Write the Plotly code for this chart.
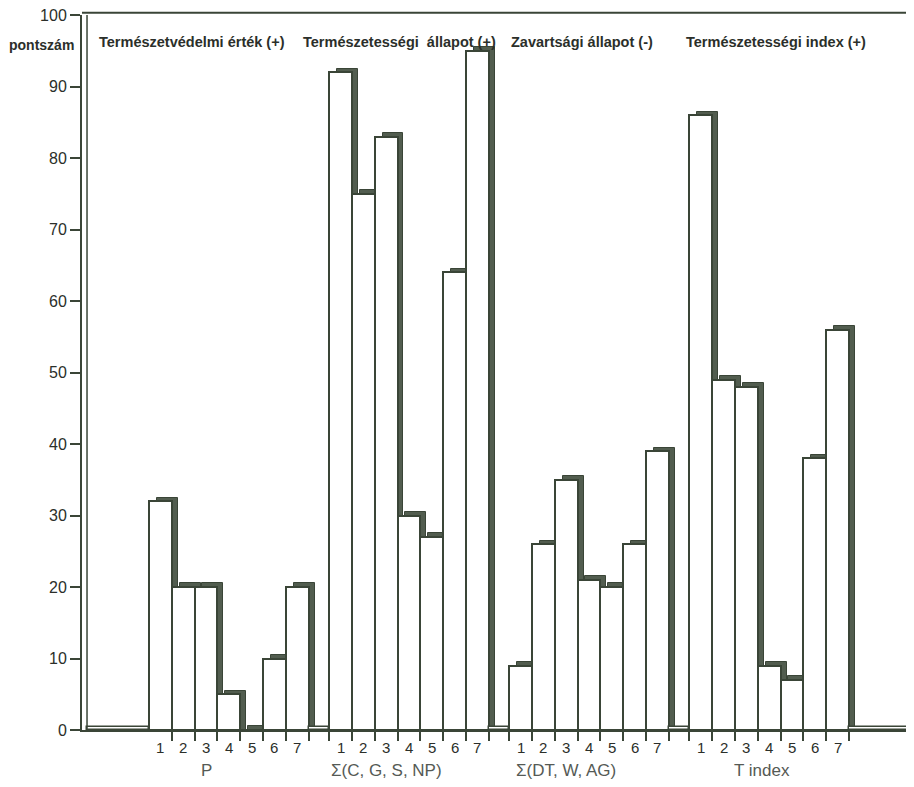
import plotly.graph_objects as go

# ---- data ----
group_names = ["P", "Σ(C, G, S, NP)", "Σ(DT, W, AG)", "T index"]
group_titles = ["Természetvédelmi érték (+)", "Természetességi  állapot (+)",
                "Zavartsági állapot (-)", "Természetességi index (+)"]
bar_labels = ["1", "2", "3", "4", "5", "6", "7"]
values_P = [32, 20, 20, 5, 0, 10, 20]
values_C = [92, 75, 83, 30, 27, 64, 95]
values_DT = [9, 26, 35, 21, 20, 26, 39]
values_T = [86, 49, 48, 9, 7, 38, 56]
gap_heights = [0.4, 0.4, 0.4, 0.4, 0.4]
y_ticks = [0, 10, 20, 30, 40, 50, 60, 70, 80, 90, 100]

series = [values_P, values_C, values_DT, values_T]

# ---- layout helpers (positions in bar-width units) ----
GROUP_GAP = 0.9
STRIDE = len(bar_labels) + GROUP_GAP
X_MIN, X_MAX = -2.94, 33.55
WALL_X = -2.72
starts = [g * STRIDE for g in range(len(series))]

centers, vals, labels = [], [], []
for g, vs in enumerate(series):
    for k, v in enumerate(vs):
        centers.append(starts[g] + k + 0.5)
        vals.append(v)
        labels.append(bar_labels[k])

# gap (flat) bars
gap_edges = [(WALL_X, starts[0])]
for g in range(len(series) - 1):
    gap_edges.append((starts[g] + len(bar_labels), starts[g + 1]))
gap_edges.append((starts[-1] + len(bar_labels), X_MAX + 0.5))
gap_x = [(a + b) / 2 for a, b in gap_edges]
gap_w = [b - a for a, b in gap_edges]

# tick boundaries
boundaries = []
for g, s in enumerate(starts):
    rng = range(1, 8) if g == 0 else range(0, 8)
    boundaries += [s + i for i in rng]

INK = "#3a4537"
SHADE = "#525d4f"
TXT = "#2b2f2a"
SHIFT = 0.3
DEPTH = 0.5

fig = go.Figure()
# shadow (3D side/top)
fig.add_trace(go.Bar(
    x=[c + SHIFT for c in centers], y=[v + DEPTH for v in vals], width=0.92,
    marker=dict(color=SHADE, line=dict(color=INK, width=1)),
    hoverinfo="skip", showlegend=False))
# front faces
fig.add_trace(go.Bar(
    x=centers, y=vals, width=1.0,
    marker=dict(color="white", line=dict(color=INK, width=2)),
    showlegend=False))
# flat gap bars
fig.add_trace(go.Bar(
    x=gap_x, y=gap_heights, width=gap_w,
    marker=dict(color="white", line=dict(color=INK, width=1.5)),
    hoverinfo="skip", showlegend=False))

annotations = []
for c, lab in zip(centers, labels):
    annotations.append(dict(x=c, y=0, xref="x", yref="paper", text=lab,
                            showarrow=False, yanchor="middle", yshift=-17,
                            font=dict(family="Liberation Sans", size=15, color=TXT)))
name_offsets = [2.5, 2.5, 2.5, 3.2]
for s, name, off in zip(starts, group_names, name_offsets):
    annotations.append(dict(x=s + off, y=0, xref="x", yref="paper", text=name,
                            showarrow=False, yanchor="middle", yshift=-40,
                            font=dict(family="Liberation Sans", size=17, color="#555a55")))
title_x = [1.9, 11.0, 19.0, 27.5]
for tx, t in zip(title_x, group_titles):
    annotations.append(dict(x=tx, y=96.2, xref="x", yref="y", text="<b>" + t + "</b>",
                            showarrow=False, yanchor="middle",
                            font=dict(family="Liberation Sans", size=14.5, color=TXT)))
annotations.append(dict(x=0, y=95.8, xref="paper", yref="y", text="<b>pontszám</b>",
                        showarrow=False, xanchor="right", yanchor="middle", xshift=-6,
                        font=dict(family="Liberation Sans", size=14, color=TXT)))

shapes = [
    dict(type="line", xref="paper", yref="paper", x0=0, x1=1, y0=1.003, y1=1.003,
         line=dict(color=INK, width=2)),
    dict(type="line", xref="x", yref="y", x0=WALL_X, x1=WALL_X, y0=0, y1=100,
         line=dict(color=INK, width=1.5)),
]

fig.update_layout(
    width=906, height=771,
    margin=dict(l=74, r=0, t=7, b=49),
    paper_bgcolor="white", plot_bgcolor="white",
    barmode="overlay", bargap=0,
    showlegend=False,
    annotations=annotations,
    shapes=shapes,
    xaxis=dict(range=[X_MIN, X_MAX], tickvals=boundaries, ticks="outside",
               ticklen=9, tickwidth=1.5, tickcolor=INK, showticklabels=False,
               showline=True, linecolor=INK, linewidth=2, showgrid=False,
               zeroline=False, fixedrange=True),
    yaxis=dict(range=[0, 100], tickvals=y_ticks, ticks="outside", ticklen=10,
               tickwidth=1.5, tickcolor=INK, showline=True, linecolor=INK,
               linewidth=2, showgrid=False, zeroline=False,
               ticklabeloverflow="allow",
               tickfont=dict(family="Liberation Sans", size=16, color=TXT)),
)

fig.write_html("out.html")
